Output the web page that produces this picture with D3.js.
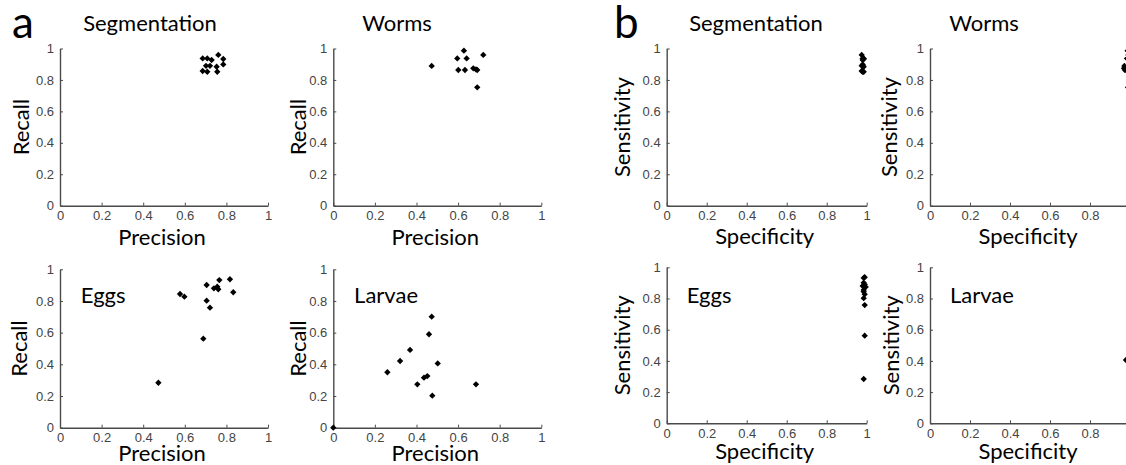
<!DOCTYPE html>
<meta charset="utf-8">
<style>
    body { margin: 0; background: #fff; }
    .tick text { font-family: "Liberation Sans", Arial, sans-serif; font-size: 13px; fill: #444; }
    .axis path, .axis line { stroke: #4a4a4a; }
    .title, .label, .panel-letter { font-family: Lato, "Open Sans", sans-serif; fill: #000; }
</style>
<svg width="1126" height="465"></svg>
<script src="https://d3js.org/d3.v7.min.js"></script>
<script>

    // values (sensitivity is the same quantity as recall)
    var segPrecision = [0.686, 0.708, 0.729, 0.761, 0.785, 0.702, 0.721, 0.753, 0.785, 0.686, 0.708, 0.756];
    var segRecall    = [0.937, 0.937, 0.927, 0.959, 0.933, 0.890, 0.890, 0.884, 0.899, 0.857, 0.852, 0.852];
    var segSpecificity = [0.98, 0.985, 0.98, 0.975, 0.985, 0.98, 0.975, 0.985, 0.98, 0.975, 0.98, 0.985];

    var wormsPrecision = [0.473, 0.596, 0.628, 0.641, 0.721, 0.601, 0.633, 0.673, 0.686, 0.692, 0.692];
    var wormsRecall    = [0.889, 0.937, 0.986, 0.937, 0.959, 0.863, 0.863, 0.874, 0.867, 0.863, 0.753];
    var wormsSpecificity = [0.972, 0.985, 0.988, 0.99, 0.992, 0.975, 0.985, 0.97, 0.98, 0.99, 0.99];

    var eggsPrecision = [0.577, 0.598, 0.705, 0.705, 0.721, 0.689, 0.473, 0.740, 0.756, 0.766, 0.761, 0.817, 0.833];
    var eggsRecall    = [0.844, 0.827, 0.901, 0.802, 0.758, 0.562, 0.284, 0.880, 0.890, 0.932, 0.874, 0.937, 0.855];
    var eggsSpecificity = [0.985, 0.99, 0.985, 0.985, 0.99, 0.99, 0.985, 0.98, 0.99, 0.985, 0.995, 0.99, 0.985];

    var larvaePrecision = [0.473, 0.460, 0.369, 0.321, 0.260, 0.502, 0.436, 0.452, 0.404, 0.476, 0.686, 0];
    var larvaeRecall    = [0.701, 0.590, 0.491, 0.421, 0.350, 0.406, 0.316, 0.326, 0.274, 0.202, 0.274, 0];
    var larvaeSpecificity = [0.995, 0.995, 0.998, 0.995, 0.998, 0.98, 0.998, 0.995, 0.998, 0.995, 0.998, 1];

    var tickValues = [0, 0.2, 0.4, 0.6, 0.8, 1];
    var tickLabels = ["0", "0.2", "0.4", "0.6", "0.8", "1"];

    // panel boxes in pixels: left, right, top, bottom of the axes
    var panels = [
        {name: "Segmentation", xs: segPrecision, ys: segRecall, xl: "Precision", yl: "Recall",
         box: [60, 268, 48.5, 205.7], titleTop: true, titleX: 150, ylOff: -31, xlOff: 39},
        {name: "Worms", xs: wormsPrecision, ys: wormsRecall, xl: "Precision", yl: "Recall",
         box: [333.3, 541.3, 48.5, 205.7], titleTop: true, titleX: 397, ylOff: -27, xlOff: 39},
        {name: "Eggs", xs: eggsPrecision, ys: eggsRecall, xl: "Precision", yl: "Recall",
         box: [60, 268, 269.3, 427.7], titleTop: false, ylOff: -33, xlOff: 33},
        {name: "Larvae", xs: larvaePrecision, ys: larvaeRecall, xl: "Precision", yl: "Recall",
         box: [333.3, 541.3, 269.3, 427.7], titleTop: false, ylOff: -27, xlOff: 33},
        {name: "Segmentation", xs: segSpecificity, ys: segRecall, xl: "Specificity", yl: "Sensitivity",
         box: [666.7, 866.7, 48.5, 205.7], titleTop: true, titleX: 756, ylOff: -37, xlOff: 38},
        {name: "Worms", xs: wormsSpecificity, ys: wormsRecall, xl: "Specificity", yl: "Sensitivity",
         box: [930, 1130, 48.5, 205.7], titleTop: true, titleX: 984, ylOff: -33, xlOff: 38},
        {name: "Eggs", xs: eggsSpecificity, ys: eggsRecall, xl: "Specificity", yl: "Sensitivity",
         box: [666.7, 866.7, 267.3, 423.3], titleTop: false, ylOff: -37, xlOff: 36},
        {name: "Larvae", xs: larvaeSpecificity, ys: larvaeRecall, xl: "Specificity", yl: "Sensitivity",
         box: [930, 1130, 267.3, 423.3], titleTop: false, ylOff: -31, xlOff: 36}
    ];

    var svg = d3.select("svg");

    var marker = d3.symbol().type(d3.symbolSquare).size(20);

    panels.forEach(function(p) {
        var x = d3.scaleLinear().domain([0, 1]).range([p.box[0], p.box[1]]),
            y = d3.scaleLinear().domain([0, 1]).range([p.box[3], p.box[2]]);

        var g = svg.append("g");

        g.append("g")
            .attr("class", "axis")
            .attr("transform", "translate(0," + p.box[3] + ")")
            .call(d3.axisBottom(x).tickValues(tickValues).tickSizeInner(-3).tickSizeOuter(0)
                .tickPadding(5).tickFormat(function(d, i) { return tickLabels[i]; }))
            .call(function(a) { a.select(".domain").attr("stroke-width", 1.4); });

        g.append("g")
            .attr("class", "axis")
            .attr("transform", "translate(" + p.box[0] + ",0)")
            .call(d3.axisLeft(y).tickValues(tickValues).tickSizeInner(-3).tickSizeOuter(0)
                .tickPadding(6).tickFormat(function(d, i) { return tickLabels[i]; }))
            .call(function(a) { a.select(".domain").attr("stroke-width", 1.4); });

        g.selectAll(".pt")
            .data(p.xs.map(function(v, i) { return [v, p.ys[i]]; }))
            .enter().append("path")
            .attr("class", "pt")
            .attr("d", marker)
            .attr("transform", function(d) { return "translate(" + x(d[0]) + "," + y(d[1]) + ") rotate(45)"; })
            .attr("fill", "#000");

        var cx = (p.box[0] + p.box[1]) / 2;

        if (p.titleTop) {
            g.append("text").attr("class", "title")
                .attr("x", p.titleX).attr("y", 31)
                .attr("text-anchor", "middle")
                .attr("font-size", "22px")
                .text(p.name);
        } else {
            g.append("text").attr("class", "title")
                .attr("x", x(0.1)).attr("y", 303)
                .attr("font-size", "22px")
                .text(p.name);
        }

        g.append("text").attr("class", "label")
            .attr("x", cx - 2).attr("y", p.box[3] + p.xlOff)
            .attr("text-anchor", "middle")
            .attr("font-size", "22px")
            .text(p.xl);

        g.append("text").attr("class", "label")
            .attr("transform", "translate(" + (p.box[0] + p.ylOff) + "," + ((p.box[2] + p.box[3]) / 2) + ") rotate(-90)")
            .attr("text-anchor", "middle")
            .attr("font-size", "22px")
            .text(p.yl);
    });

    svg.append("text").attr("class", "panel-letter")
        .attr("x", 12).attr("y", 38).attr("font-size", "44px").text("a");
    svg.append("text").attr("class", "panel-letter")
        .attr("x", 614).attr("y", 38).attr("font-size", "44px").text("b");

</script>
